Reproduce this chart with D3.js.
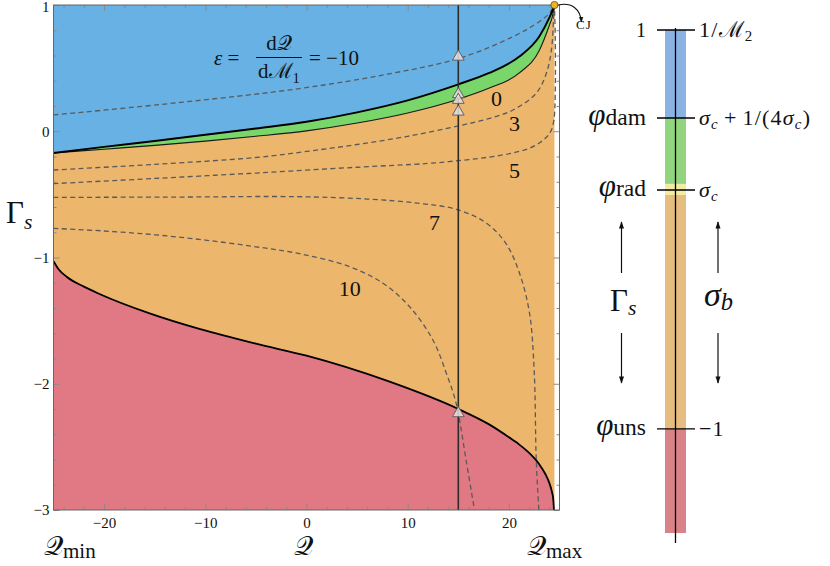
<!DOCTYPE html>
<html>
<head>
<meta charset="utf-8">
<script src="https://cdn.jsdelivr.net/npm/d3@7"></script>
<style>
  body { margin: 0; background: #fff; }
  svg text { font-family: "Liberation Serif", "DejaVu Serif", serif; fill: #111; }
</style>
</head>
<body>
<svg id="chart" width="830" height="566"></svg>
<script>
// ---- regime boundaries: Γs as a function of the heat release Q ----
const qMin = -25, qMax = 24.5;
const qDomain = [-25, 25];
const gDomain = [-3, 1];

// damped / radiating boundaries share the same Q grid
const edgeQ = [-25, -20, -15, -10, -5, 0, 5, 10, 15, 18, 21, 23, 24, 24.3, 24.5];
const damG  = [-0.172, -0.124, -0.077, -0.028, 0.022, 0.075, 0.15, 0.245, 0.372, 0.46, 0.59, 0.75, 0.9, 0.955, 1];
const radG  = [-0.172, -0.142, -0.112, -0.078, -0.040, 0.003, 0.065, 0.145, 0.254, 0.34, 0.46, 0.64, 0.84, 0.91, 1];

// unstable boundary
const unsQ = [-25, -24.5, -23.7, -22, -20.4, -15.5, -10.5, -5, 0, 8, 15, 18, 20.4, 21, 22, 23, 23.6, 24, 24.25, 24.38, 24.45];
const unsG = [-1.03, -1.093, -1.152, -1.231, -1.291, -1.443, -1.568, -1.683, -1.778, -1.978, -2.2, -2.32, -2.446, -2.48, -2.548, -2.638, -2.715, -2.787, -2.855, -2.912, -3.0];

// iso-ε curves, ε = dQ/dM1
const epsM10 = [[-25, 0.129], [-12.5, 0.228], [-0.7, 0.338], [8, 0.452], [15.1, 0.578], [20.4, 0.749], [23, 0.868], [24, 0.934], [24.5, 1]];
const eps3   = [[-25, -0.307], [-15, -0.262], [-5, -0.208], [0, -0.16], [5, -0.105], [10, -0.04], [15, 0.042], [18, 0.1], [20.4, 0.168], [22.7, 0.301], [23.7, 0.459], [24.2, 0.644], [24.41, 0.881], [24.5, 1]];
const eps5   = [[-25, -0.415], [-15, -0.374], [-5, -0.331], [5, -0.285], [12, -0.255], [15, -0.233], [18, -0.205], [20.4, -0.172], [22, -0.135], [23, -0.093], [23.8, -0.04], [24.2, 0.01], [24.45, 0.09], [24.58, 0.3], [24.58, 0.75], [24.5, 1]];
const eps7   = [[-25, -0.524], [-12, -0.521], [-1, -0.518], [6, -0.537], [11, -0.57], [14.8, -0.618], [17.8, -0.729], [19.7, -0.888], [21.05, -1.125], [22.04, -1.442], [22.5, -1.9], [22.7, -2.6], [22.96, -3.0]];
const eps10  = [[-25, -0.769], [-20, -0.79], [-15, -0.82], [-10, -0.862], [-5, -0.915], [-0.67, -0.97], [4.27, -1.073], [7.56, -1.204], [10.19, -1.39], [12.49, -1.653], [13.82, -1.917], [14.8, -2.16], [15.8, -2.62], [16.6, -3.0]];
const epsCurves = [epsM10, eps3, eps5, eps7, eps10];

// curve labels, anchored in (Q, Γs)
const epsLabelText = ["0", "3", "5", "7", "10"];
const epsLabelAt = [[18.78, 0.263], [20.56, 0.063], [20.56, -0.307], [12.66, -0.719], [4.27, -1.244]];

// cut at fixed Q and its marked states
const cutQ = 15;
const markG = [0.59, 0.293, 0.248, 0.155, -2.234];
const cjPoint = [qMax, 1];

// axis ticks
const xMajor = [-20, -10, 0, 10, 20];
const yMajor = [-3, -2, -1, 0, 1];
const xMinor = d3.range(-24, 25, 2).filter(v => !xMajor.includes(v));
const yMinor = d3.range(-2.8, 1, 0.2).filter(v => !yMajor.some(m => Math.abs(m - v) < 1e-6));

// schematic colour bar (normalised top→bottom positions)
const barStops  = [0, 0.175, 0.306, 0.328, 0.793, 1];
const barColors = ["#8ab2e2", "#93d57f", "#f3eca2", "#e6bd81", "#d98389"];
const barTicks  = [0, 0.175, 0.318, 0.793];
const barLeft = [
  [["1", ""]],
  [["φ", "i"], ["dam", "sub"]],
  [["φ", "i"], ["rad", "sub"]],
  [["φ", "i"], ["uns", "sub"]]
];
const barRight = [
  [["1/", ""], ["ℳ", ""], ["2", "sub"]],
  [["σ", "i"], ["c", "subi"], ["+", "", 5], ["1/(4", "", 5], ["σ", "i"], ["c", "subi"], [")", ""]],
  [["σ", "i"], ["c", "subi"]],
  [["−1", ""]]
];

const C = { blue: "#68b1e4", green: "#79d66a", orange: "#ecb66d", red: "#e07983" };

// ---- drawing ----
const svg = d3.select("#chart");
const x = d3.scaleLinear().domain(qDomain).range([53.5, 559.5]);
const y = d3.scaleLinear().domain(gDomain).range([510, 5]);

// rich text: parts of [text, kind, dx]; kind "" roman, "i" italic, "sub"/"subi" subscript
function rich(sel, parts, size, subScale = 0.7, subShift = 0.22) {
  let shift = 0;
  sel.attr("font-size", size);
  parts.forEach(([t, k, dx]) => {
    const sub = k.startsWith("sub");
    const target = sub ? size * subShift : 0;
    const ts = sel.append("tspan").text(t).attr("dy", target - shift);
    if (dx) ts.attr("dx", dx);
    shift = target;
    if (sub) ts.attr("font-size", size * subScale);
    if (k === "i" || k === "subi") ts.attr("font-style", "italic");
  });
  return sel;
}

const plot = svg.append("g");

// orange background of the admissible domain
plot.append("rect")
  .attr("x", x(qMin)).attr("y", y(gDomain[1]))
  .attr("width", x(qMax) - x(qMin)).attr("height", y(gDomain[0]) - y(gDomain[1]))
  .attr("fill", C.orange);

const edgePts = edgeQ.map((q, i) => [q, damG[i], radG[i]]);
const unsPts = unsQ.map((q, i) => [q, unsG[i]]);
const curve = d3.curveMonotoneX;

plot.append("path").datum(edgePts)
  .attr("d", d3.area().x(d => x(d[0])).y0(y(gDomain[1])).y1(d => y(d[1])).curve(curve))
  .attr("fill", C.blue);
plot.append("path").datum(edgePts)
  .attr("d", d3.area().x(d => x(d[0])).y0(d => y(d[2])).y1(d => y(d[1])).curve(curve))
  .attr("fill", C.green);
plot.append("path").datum(unsPts)
  .attr("d", d3.area().x(d => x(d[0])).y0(y(gDomain[0])).y1(d => y(d[1])).curve(curve))
  .attr("fill", C.red);

// dashed iso-ε curves
const dashLine = d3.line().x(d => x(d[0])).y(d => y(d[1])).curve(d3.curveCatmullRom.alpha(0.5));
plot.selectAll("path.eps").data(epsCurves).join("path")
  .attr("class", "eps")
  .attr("d", dashLine)
  .attr("fill", "none").attr("stroke", "#5a5a5a").attr("stroke-width", 1.3)
  .attr("stroke-dasharray", "5,3.4");

// solid boundaries
const fLine = d3.line().x(d => x(d[0])).curve(curve);
plot.append("path").datum(edgePts).attr("d", fLine.y(d => y(d[2])))
  .attr("fill", "none").attr("stroke", "#1a1a1a").attr("stroke-width", 1.1);
plot.append("path").datum(edgePts).attr("d", fLine.y(d => y(d[1])))
  .attr("fill", "none").attr("stroke", "#000").attr("stroke-width", 1.9);
plot.append("path").datum(unsPts).attr("d", fLine.y(d => y(d[1])))
  .attr("fill", "none").attr("stroke", "#000").attr("stroke-width", 1.8);

// cut at Q = 15
plot.append("line")
  .attr("x1", x(cutQ)).attr("x2", x(cutQ)).attr("y1", y(gDomain[1])).attr("y2", y(gDomain[0]))
  .attr("stroke", "#2e2a28").attr("stroke-width", 1.6);
plot.selectAll("path.mark").data(markG).join("path")
  .attr("class", "mark")
  .attr("transform", g => `translate(${x(cutQ)},${y(g)})`)
  .attr("d", d3.symbol(d3.symbolTriangle, 60))
  .attr("fill", "#e4e0e0").attr("fill-opacity", 0.85)
  .attr("stroke", "#6b6060").attr("stroke-width", 1);

// contour labels
plot.selectAll("text.elab").data(epsLabelText).join("text")
  .attr("class", "elab")
  .attr("x", (d, i) => x(epsLabelAt[i][0])).attr("y", (d, i) => y(epsLabelAt[i][1]))
  .attr("dy", "0.35em").attr("text-anchor", "middle").attr("font-size", 22)
  .text(d => d);

// ε = dQ/dM1 = −10
const eq = svg.append("g");
rich(eq.append("text").attr("x", 214).attr("y", 65), [["ε", "i"], [" =", ""]], 21);
rich(eq.append("text").attr("x", 279).attr("y", 50).attr("text-anchor", "middle"), [["d", ""], ["𝒬", ""]], 21);
eq.append("line").attr("x1", 256).attr("x2", 302).attr("y1", 57.5).attr("y2", 57.5)
  .attr("stroke", "#111").attr("stroke-width", 1.1);
rich(eq.append("text").attr("x", 279).attr("y", 78).attr("text-anchor", "middle"), [["d", ""], ["ℳ", ""], ["1", "sub"]], 21);
rich(eq.append("text").attr("x", 309).attr("y", 65), [["= −10", ""]], 21);

// frame ticks
function styleAxis(g) {
  g.select(".domain").remove();
  g.selectAll(".tick line").attr("stroke", "#8a8a8a");
  g.selectAll(".tick text").attr("font-size", 15).attr("fill", "#222")
    .attr("font-family", "Liberation Serif, DejaVu Serif, serif");
}
const fmt = d3.format("d");
const frameBottom = y(gDomain[0]), frameTop = y(gDomain[1]);
const frameLeft = x(qDomain[0]), frameRight = x(qDomain[1]);
svg.append("g").attr("transform", `translate(0,${frameBottom})`)
  .call(d3.axisBottom(x).tickValues(xMajor).tickSize(-6).tickPadding(7).tickFormat(fmt)).call(styleAxis);
svg.append("g").attr("transform", `translate(0,${frameBottom})`)
  .call(d3.axisBottom(x).tickValues(xMinor).tickSize(-3).tickFormat("")).call(styleAxis);
svg.append("g").attr("transform", `translate(0,${frameTop})`)
  .call(d3.axisTop(x).tickValues(xMajor).tickSize(-6).tickFormat("")).call(styleAxis);
svg.append("g").attr("transform", `translate(0,${frameTop})`)
  .call(d3.axisTop(x).tickValues(xMinor).tickSize(-3).tickFormat("")).call(styleAxis);
svg.append("g").attr("transform", `translate(${frameLeft},0)`)
  .call(d3.axisLeft(y).tickValues(yMajor).tickSize(-6).tickPadding(4).tickFormat(fmt)).call(styleAxis)
  .call(g => g.selectAll(".tick text").filter(d => d === gDomain[1]).attr("dy", "0.45em"));
svg.append("g").attr("transform", `translate(${frameLeft},0)`)
  .call(d3.axisLeft(y).tickValues(yMinor).tickSize(-3).tickFormat("")).call(styleAxis);
svg.append("g").attr("transform", `translate(${frameRight},0)`)
  .call(d3.axisRight(y).tickValues(yMajor).tickSize(-6).tickFormat("")).call(styleAxis);
svg.append("g").attr("transform", `translate(${frameRight},0)`)
  .call(d3.axisRight(y).tickValues(yMinor).tickSize(-3).tickFormat("")).call(styleAxis);
svg.append("rect").attr("x", frameLeft).attr("y", frameTop)
  .attr("width", frameRight - frameLeft).attr("height", frameBottom - frameTop)
  .attr("fill", "none").attr("stroke", "#666").attr("stroke-width", 1);

// CJ point and its annotation
const defs = svg.append("defs");
defs.append("marker").attr("id", "arr").attr("viewBox", "0 0 10 10")
  .attr("refX", 9).attr("refY", 5).attr("markerWidth", 5).attr("markerHeight", 5).attr("orient", "auto")
  .append("path").attr("d", "M0,1 L10,5 L0,9 Z").attr("fill", "#111");
defs.append("marker").attr("id", "arrB").attr("viewBox", "0 0 10 10")
  .attr("refX", 9).attr("refY", 5).attr("markerWidth", 7).attr("markerHeight", 6).attr("orient", "auto")
  .append("path").attr("d", "M0,1.5 L10,5 L0,8.5 Z").attr("fill", "#111");
const cjX = x(cjPoint[0]), cjY = y(cjPoint[1]);
svg.append("path")
  .attr("d", `M${cjX + 4},${cjY} C${cjX + 17},${cjY - 3} ${cjX + 26},${cjY + 4} ${cjX + 27},${cjY + 17}`)
  .attr("fill", "none").attr("stroke", "#111").attr("stroke-width", 1.1).attr("marker-end", "url(#arr)");
svg.append("circle").attr("cx", cjX).attr("cy", cjY).attr("r", 3.6)
  .attr("fill", "#f2b320").attr("stroke", "#5a4a20").attr("stroke-width", 0.8);
svg.append("text").attr("x", 576).attr("y", 29).attr("font-size", 13)
  .attr("letter-spacing", 1).text("CJ");

// axis titles
rich(svg.append("text").attr("x", 6).attr("y", 223), [["Γ", ""], ["s", "subi"]], 31, 0.7, 0.18);
rich(svg.append("text").attr("x", 44).attr("y", 555), [["𝒬", ""], ["min", "sub"]], 27, 0.78, 0.1);
rich(svg.append("text").attr("x", 294).attr("y", 555), [["𝒬", ""]], 27);
rich(svg.append("text").attr("x", 527).attr("y", 555), [["𝒬", ""], ["max", "sub"]], 27, 0.78, 0.1);

// schematic bar
const barY = d3.scaleLinear().domain([0, 1]).range([30, 533]);
const barX0 = 665, barX1 = 686, barMid = 675.5;
const bar = svg.append("g");
bar.selectAll("rect").data(barColors).join("rect")
  .attr("x", barX0).attr("width", barX1 - barX0)
  .attr("y", (d, i) => barY(barStops[i])).attr("height", (d, i) => barY(barStops[i + 1]) - barY(barStops[i]))
  .attr("fill", d => d);
bar.append("line").attr("x1", barMid).attr("x2", barMid).attr("y1", barY(0) - 2).attr("y2", barY(1) + 10)
  .attr("stroke", "#000").attr("stroke-width", 1.3);
bar.selectAll("line.tk").data(barTicks).join("line").attr("class", "tk")
  .attr("x1", 657).attr("x2", 695).attr("y1", d => barY(d)).attr("y2", d => barY(d))
  .attr("stroke", "#000").attr("stroke-width", 1.4);
barTicks.forEach((t, i) => {
  const phi = i > 0;
  rich(bar.append("text").attr("x", 646).attr("y", barY(t) + 6.5).attr("text-anchor", "end"),
       barLeft[i], phi ? 31 : 20, phi ? 0.76 : 0.7, phi ? 0.0 : 0.22);
  rich(bar.append("text").attr("x", 699).attr("y", barY(t) + 7).attr("letter-spacing", 1.2),
       barRight[i], 22, 0.68, 0.2);
});

// direction arrows beside the bar
[621.5, 718].forEach(ax => {
  bar.append("line").attr("x1", ax).attr("x2", ax).attr("y1", 273).attr("y2", 222)
    .attr("stroke", "#111").attr("stroke-width", 1.2).attr("marker-end", "url(#arrB)");
  bar.append("line").attr("x1", ax).attr("x2", ax).attr("y1", 333).attr("y2", 383)
    .attr("stroke", "#111").attr("stroke-width", 1.2).attr("marker-end", "url(#arrB)");
});
rich(bar.append("text").attr("x", 610).attr("y", 311), [["Γ", ""], ["s", "subi"]], 31, 0.7, 0.12);
rich(bar.append("text").attr("x", 704).attr("y", 306), [["σ", "i"], ["b", "subi"]], 34, 0.72, 0.12);
</script>
</body>
</html>
